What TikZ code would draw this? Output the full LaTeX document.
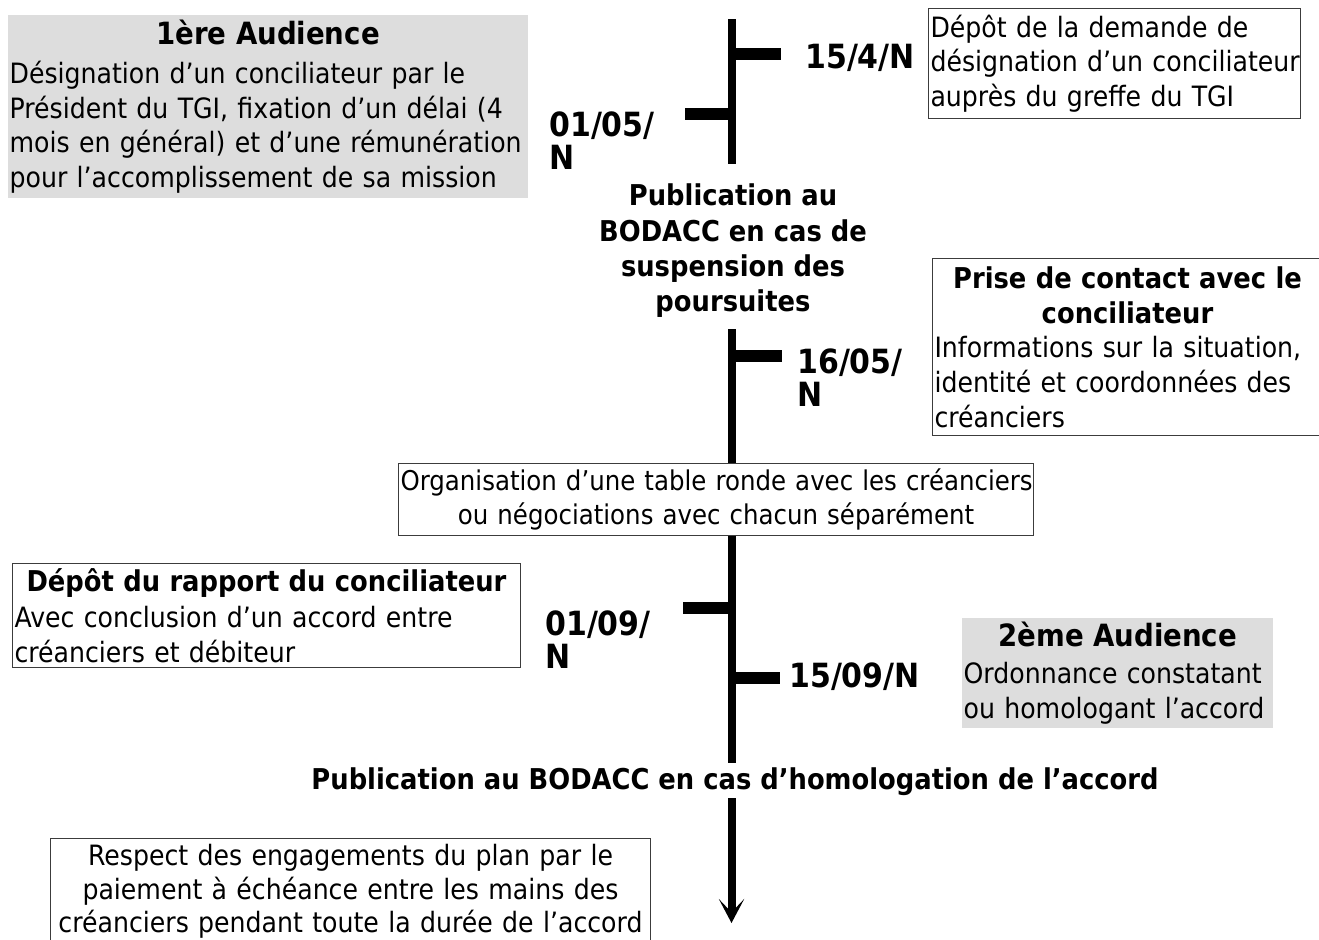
\documentclass[tikz,border=0pt]{standalone}
\usepackage{fontspec}
\setmainfont{DejaVu Sans}[FakeStretch=0.9]
\usetikzlibrary{arrows.meta}
\definecolor{boxgray}{RGB}{221,221,221}
\definecolor{framegray}{RGB}{60,60,60}
\newcommand\bodysize{\fontsize{21}{26}\selectfont}
\newcommand\titlesize{\fontsize{23}{26}\selectfont\bfseries}
\newcommand\headsize{\fontsize{21.5}{26}\selectfont\bfseries}
\begin{document}
\begin{tikzpicture}[x=0.75pt,y=-0.75pt,
  framed/.style={draw=framegray, line width=0.75pt, inner xsep=1.5pt, inner ysep=0pt, font=\bodysize, anchor=north west},
  shaded/.style={fill=boxgray, inner xsep=1pt, inner ysep=0pt, font=\bodysize, anchor=north west},
  datelabel/.style={font=\fontsize{25}{25}\selectfont\bfseries, align=left, inner sep=0pt},
  publabel/.style={font=\fontsize{21.5}{26.5}\selectfont\bfseries, align=center, inner sep=0pt},
  spine/.style={line width=6pt},
  tickmark/.style={line width=9pt}]
\useasboundingbox (0,0) rectangle (1319,939);

% ---------- boxes ----------
\node[shaded, text width=387.75pt, minimum height=137.25pt, align=left] (aud1) at (8,15)
  {\makebox[\linewidth]{\titlesize 1ère Audience}\\[3pt]
   \mbox{Désignation d’un conciliateur par le}\\
   \mbox{Président du TGI, fixation d’un délai (4}\\
   \mbox{mois en général) et d’une rémunération}\\
   \mbox{pour l’accomplissement de sa mission}};

\node[framed, text width=276pt, minimum height=82.5pt, align=left] (depot) at (928,8)
  {\mbox{Dépôt de la demande de}\\
   \mbox{désignation d’un conciliateur}\\
   \mbox{auprès du greffe du TGI}};

\node[framed, text width=289.5pt, minimum height=132.75pt, align=left] (contact) at (932,258)
  {\makebox[\linewidth]{\headsize Prise de contact avec le}\\
   \makebox[\linewidth]{\headsize conciliateur}\\
   \mbox{Informations sur la situation,}\\
   \mbox{identité et coordonnées des}\\
   \mbox{créanciers}};

\node[framed, text width=473.25pt, minimum height=54pt, align=center,
      font=\fontsize{20.4}{26}\selectfont] (table) at (398,463)
  {\mbox{Organisation d’une table ronde avec les créanciers}\\
   \mbox{ou négociations avec chacun séparément}};

\node[framed, text width=378pt, minimum height=78pt, align=left] (rapport) at (12,563)
  {\makebox[\linewidth]{\headsize Dépôt du rapport du conciliateur}\\[1pt]
   \mbox{Avec conclusion d’un accord entre}\\
   \mbox{créanciers et débiteur}};

\node[shaded, text width=231.25pt, minimum height=82.5pt, align=left] (aud2) at (962,618)
  {\makebox[\linewidth]{\titlesize 2ème Audience}\\[2pt]
   \mbox{Ordonnance constatant}\\
   \mbox{ou homologant l’accord}};

\node[framed, text width=447pt, minimum height=79.5pt, align=center,
      font=\fontsize{21}{25}\selectfont] (respect) at (50,838)
  {\mbox{Respect des engagements du plan par le}\\
   \mbox{paiement à échéance entre les mains des}\\
   \mbox{créanciers pendant toute la durée de l’accord}};

% ---------- labels ----------
\node[datelabel, anchor=west] (d1) at (805,58) {15/4/N};
\node[datelabel, anchor=north west] (d2) at (549,111) {01/05/\\N};
\node[publabel] (pub1) at (733,251) {Publication au\\BODACC en cas de\\suspension des\\poursuites};
\node[datelabel, anchor=north west] (d3) at (797,348) {16/05/\\N};
\node[datelabel, anchor=north west] (d4) at (545,610) {01/09/\\N};
\node[datelabel, anchor=west] (d5) at (789,677) {15/09/N};
\node[publabel] (pub2) at (735,782) {Publication au BODACC en cas d’homologation de l’accord};

% ---------- timeline ----------
\coordinate (s1top) at (731.5,19);
\coordinate (s1bot) at (731.5,164);
\coordinate (s2top) at (731.5,329);
\coordinate (s3bot) at (731.5,763);
\coordinate (s4top) at (731.5,798);
\coordinate (tip) at (731.5,923);

\draw[spine] (s1top) -- (s1bot);
\draw[spine] (s2top) -- (s2top |- table.north);
\draw[spine] (s2top |- table.south) -- (s3bot);
\draw[spine, -{Stealth[length=18pt,width=19pt,inset=10pt]}] (s4top) -- (tip);

% ticks
\coordinate (k1a) at (731.5,54);  \coordinate (k1b) at (781,54);
\coordinate (k2a) at (731.5,114); \coordinate (k2b) at (684.5,114);
\coordinate (k3a) at (731.5,355.5); \coordinate (k3b) at (781.5,355.5);
\coordinate (k4a) at (731.5,607.5); \coordinate (k4b) at (683,607.5);
\coordinate (k5a) at (731.5,678); \coordinate (k5b) at (780,678);
\draw[tickmark] (k1a) -- (k1b);
\draw[tickmark] (k2a) -- (k2b);
\draw[tickmark] (k3a) -- (k3b);
\draw[tickmark] (k4a) -- (k4b);
\draw[tickmark] (k5a) -- (k5b);
\end{tikzpicture}
\end{document}
